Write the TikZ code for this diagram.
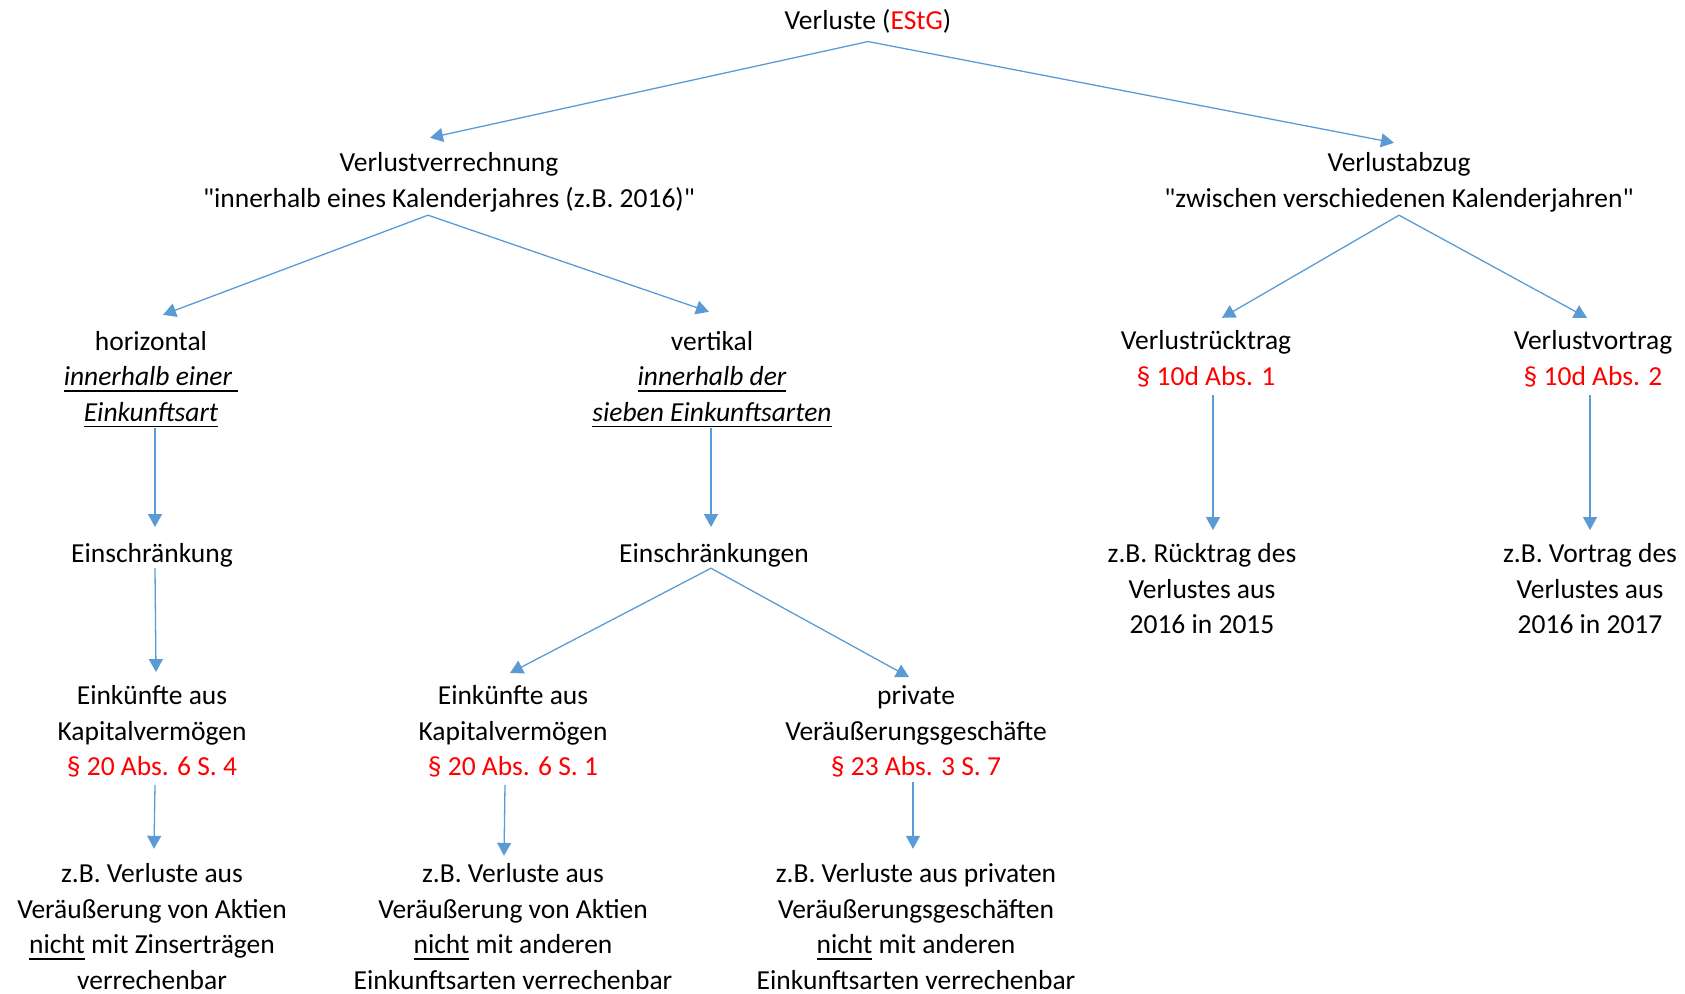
\documentclass[tikz,border=0pt]{standalone}
\usepackage{fontspec}
\newfontfamily\carl{Carlito}
\usetikzlibrary{arrows.meta}
\definecolor{linkblue}{HTML}{5B9BD5}
\definecolor{lawred}{HTML}{FF0000}
% underline with a fixed rule position
\newcommand{\ulbox}[1]{\setbox0=\hbox{#1}\rlap{\rule[-6pt]{\wd0}{1.6pt}}\box0\relax}
\newcommand{\law}[1]{{\color{lawred}#1}}
\begin{document}
\begin{tikzpicture}[x=1pt,y=-1pt,
  txt/.style={align=center, inner sep=0pt, font=\carl\fontsize{27.5}{35.5}\selectfont},
  arr/.style={draw=linkblue, line width=1.3pt, -{Triangle[length=13pt,width=14pt]}}]
\useasboundingbox (0,0) rectangle (1685,993);

% text blocks
\node[txt] (root) at (868,22) {\strut Verluste (\law{EStG})};
\node[txt] (vv) at (449,182.5) {\strut Verlustverrechnung\\\strut "innerhalb eines Kalenderjahres (z.B. 2016)"};
\node[txt] (va) at (1399,182.5) {\strut Verlustabzug\\\strut "zwischen verschiedenen Kalenderjahren"};
\node[txt] (hor) at (151,378.5) {\strut horizontal\\\strut\ulbox{\itshape innerhalb einer\ }\\\strut\ulbox{\itshape Einkunftsart}};
\node[txt] (ver) at (712,378.5) {\strut vertikal\\\strut\ulbox{\itshape innerhalb der}\\\strut\ulbox{\itshape sieben Einkunftsarten}};
\node[txt] (rueck) at (1206,360.5) {\strut Verlustrücktrag\\\strut\law{§ 10d Abs. 1}};
\node[txt] (vor) at (1593,360.5) {\strut Verlustvortrag\\\strut\law{§ 10d Abs. 2}};
\node[txt] (ein1) at (152,555.5) {\strut Einschränkung};
\node[txt] (ein2) at (714,555.5) {\strut Einschränkungen};
\node[txt] (rb) at (1202,591) {\strut z.B. Rücktrag des\\\strut Verlustes aus\\\strut 2016 in 2015};
\node[txt] (vb) at (1590,591) {\strut z.B. Vortrag des\\\strut Verlustes aus\\\strut 2016 in 2017};
\node[txt] (k1) at (152,733) {\strut Einkünfte aus\\\strut Kapitalvermögen\\\strut\law{§ 20 Abs. 6 S. 4}};
\node[txt] (k2) at (513,733) {\strut Einkünfte aus\\\strut Kapitalvermögen\\\strut\law{§ 20 Abs. 6 S. 1}};
\node[txt] (pv) at (916,733) {\strut private\\\strut Veräußerungsgeschäfte\\\strut\law{§ 23 Abs. 3 S. 7}};
\node[txt] (b1) at (152,929) {\strut z.B. Verluste aus\\\strut Veräußerung von Aktien\\\strut\ulbox{nicht} mit Zinserträgen\\\strut verrechenbar};
\node[txt] (b2) at (513,929) {\strut z.B. Verluste aus\\\strut Veräußerung von Aktien\\\strut\ulbox{nicht} mit anderen\\\strut Einkunftsarten verrechenbar};
\node[txt] (b3) at (916,929) {\strut z.B. Verluste aus privaten\\\strut Veräußerungsgeschäften\\\strut\ulbox{nicht} mit anderen\\\strut Einkunftsarten verrechenbar};

% connectors
\draw[arr] ([yshift=-1.6pt]root.south) -- ([xshift=-19pt,yshift=9pt]vv.north);
\draw[arr] ([yshift=-1.6pt]root.south) -- ([xshift=-5pt,yshift=4pt]va.north);
\draw[arr] ([xshift=-21pt,yshift=3pt]vv.south) -- ([xshift=12pt,yshift=10.25pt]hor.north);
\draw[arr] ([xshift=-21pt,yshift=3pt]vv.south) -- ([xshift=-3pt,yshift=13.25pt]ver.north);
\draw[arr] ([yshift=3pt]va.south) -- ([xshift=16pt,yshift=7pt]rueck.north);
\draw[arr] ([yshift=3pt]va.south) -- ([xshift=-6pt,yshift=7pt]vor.north);
\draw[arr] ([xshift=4pt,yshift=3.5pt]hor.south) -- ([xshift=3pt,yshift=10.5pt]ein1.north);
\draw[arr] ([xshift=-1pt,yshift=3.5pt]ver.south) -- ([xshift=-3pt,yshift=10.5pt]ein2.north);
\draw[arr] ([xshift=7pt,yshift=1pt]rueck.south) -- ([xshift=11pt,yshift=7.5pt]rb.north);
\draw[arr] ([xshift=-3pt,yshift=1pt]vor.south) -- ([yshift=7.5pt]vb.north);
\draw[arr] ([xshift=3pt,yshift=5.25pt]ein1.south) -- ([xshift=4pt,yshift=7.5pt]k1.north);
\draw[arr] ([xshift=-3pt,yshift=5.25pt]ein2.south) -- ([xshift=-3pt,yshift=6.5pt]k2.north);
\draw[arr] ([xshift=-3pt,yshift=5.25pt]ein2.south) -- ([xshift=-7pt,yshift=2.5pt]pv.north);
\draw[arr] ([xshift=3pt,yshift=1.5pt]k1.south) -- ([xshift=2pt,yshift=9pt]b1.north);
\draw[arr] ([xshift=-8pt,yshift=1.5pt]k2.south) -- ([xshift=-9pt,yshift=2pt]b2.north);
\draw[arr] ([xshift=-3pt,yshift=4.5pt]pv.south) -- ([xshift=-3pt,yshift=9pt]b3.north);
\end{tikzpicture}
\end{document}
